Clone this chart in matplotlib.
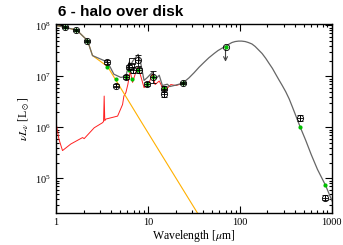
import numpy as np
import matplotlib
matplotlib.use("Agg")
import matplotlib.pyplot as plt

plt.rcParams['font.family'] = ['Liberation Serif', 'DejaVu Serif']
plt.rcParams['mathtext.fontset'] = 'stix'

# total model (grey)
tot_wave = [1.0, 1.25, 1.68, 2.21, 2.5, 3.65, 4.27, 5.09, 5.77, 6.27, 6.54, 6.87, 7.86, 8.4,
            9.1, 9.9, 11.2, 12.2, 13.3, 14.4, 16.3, 17.3, 19.3, 23.8, 28.0, 31.9, 36.0, 40.9,
            46.0, 52.6, 58.0, 64.9, 70.4, 76.0, 82.3, 89.0, 97.0, 105., 114.7, 124., 135.8,
            147., 160., 175., 191.7, 208., 226.6, 246., 267., 290., 316., 345., 374., 424.,
            460., 521., 600., 700., 860., 964., 1018.]
tot_lum = [1.0e8, 9.1e7, 8.1e7, 5.0e7, 2.55e7, 1.9e7, 1.1e7, 9.5e6, 1.0e7, 1.9e7, 1.7e7, 2.0e7, 2.7e7, 1.75e7,
           8.3e6, 9.5e6, 1.2e7, 8.9e6, 1.05e7, 6.6e6, 7.0e6, 6.3e6, 6.6e6, 7.3e6, 9.3e6, 1.18e7, 1.5e7, 1.88e7,
           2.3e7, 2.8e7, 3.2e7, 3.6e7, 3.9e7, 4.25e7, 4.6e7, 4.8e7, 4.9e7, 4.9e7, 4.8e7, 4.6e7, 4.3e7,
           3.85e7, 3.3e7, 2.8e7, 2.25e7, 1.8e7, 1.43e7, 1.1e7, 8.5e6, 6.6e6, 5.0e6, 3.6e6, 2.5e6, 1.4e6,
           9.6e5, 5.6e5, 2.9e5, 1.5e5, 7.2e4, 4.4e4, 3.5e4]

# stellar component (orange)
star_wave = [1.0, 1.25, 1.68, 2.21, 2.5, 3.65, 8.4, 34.6, 40.0]
star_lum = [1.0e8, 9.1e7, 8.1e7, 5.0e7, 2.55e7, 1.55e7, 1.32e6, 2.1e4, 1.4e4]

# disk / PAH component (red)
disk_wave = [1.02, 1.08, 1.18, 1.45, 1.95, 2.03, 2.61, 3.21, 3.30, 3.35, 3.40, 3.49, 4.69, 5.31,
             5.49, 5.77, 6.06, 6.42, 6.82, 7.28, 7.74, 8.18, 9.1, 10.25, 11.2, 12.0, 13.3, 15.1,
             17.8, 20.2, 23.8]
disk_lum = [1.05e6, 5.8e5, 3.5e5, 4.7e5, 6.3e5, 6.0e5, 9.8e5, 1.23e6, 1.3e6, 4.1e6, 1.35e6, 1.45e6, 1.66e6, 2.8e6,
            4.1e6, 4.8e6, 6.9e6, 1.26e7, 7.6e6, 1.1e7, 1.48e7, 1.17e7, 6.0e6, 7.2e6, 1.1e7, 6.9e6, 8.1e6, 5.1e6,
            6.9e6, 6.6e6, 7.2e6]

# observed photometry (open circles)
obs_wave = [1.25, 1.65, 2.2, 3.6, 4.5, 5.8, 6.2, 6.9, 7.8, 8.0, 9.7, 11.4, 15.0, 15.0, 24.0, 450., 850.]
obs_lum = [9.1e7, 8.1e7, 5.0e7, 1.9e7, 6.6e6, 9.6e6, 1.5e7, 1.35e7, 2.05e7, 1.3e7, 7.0e6, 9.6e6, 5.6e6, 4.6e6, 7.3e6, 1.5e6, 4.2e4]
obs_err = [0.05, 0.05, 0.05, 0.08, 0.08, 0.1, 0.1, 0.15, 0.3, 0.1, 0.1, 0.3, 0.15, 0.15, 0.05, 0.15, 0.1]

# ISO-like points (open squares)
sq_wave = [6.5, 6.7]
sq_lum = [1.6e7, 2.0e7]

# upper limit
lim_wave = [70.0]
lim_lum = [3.8e7]
lim_to = [1.7e7]

# model photometry (green)
mod_wave = [1.25, 1.65, 2.2, 3.6, 4.5, 5.8, 6.25, 6.8, 7.9, 9.7, 11.4, 15.0, 24.0, 70.0, 450., 850.]
mod_lum = [9.1e7, 8.1e7, 5.0e7, 1.55e7, 8.7e6, 9.6e6, 1.3e7, 8.9e6, 1.3e7, 7.0e6, 9.6e6, 6.0e6, 7.3e6, 3.8e7, 1.0e6, 7.4e4]

fig = plt.figure(figsize=(3.43, 2.45), dpi=100)
ax = fig.add_axes([0.163, 0.131, 0.804, 0.771])

ax.plot(disk_wave, disk_lum, color='#ff2020', lw=0.7)
ax.plot(star_wave, star_lum, color='#ffb000', lw=0.8)
ax.plot(tot_wave, tot_lum, color='#666666', lw=0.9)

ax.plot(mod_wave, mod_lum, 'o', color='#00c000', ms=3, mec='none', zorder=4)

lo = np.array(obs_lum) * (1 - 1 / (1 + np.array(obs_err)))
hi = np.array(obs_lum) * np.array(obs_err)
ax.errorbar(obs_wave, obs_lum, yerr=[lo, hi], fmt='o', mfc='none', mec='k', ms=4.5, mew=0.6,
            ecolor='k', elinewidth=0.6, capsize=2, capthick=0.6, zorder=5)
ax.plot(obs_wave, obs_lum, '+', color='k', ms=4, mew=0.6, zorder=5)
ax.plot(sq_wave, sq_lum, 's', mfc='none', mec='k', ms=4, mew=0.6, zorder=5)

for w, l, t in zip(lim_wave, lim_lum, lim_to):
    ax.plot([w], [l], 'o', mfc='none', mec='k', ms=4.5, mew=0.6, zorder=5)
    ax.annotate('', xy=(w, t), xytext=(w, l),
                arrowprops=dict(arrowstyle='->', color='#444444', lw=0.8, mutation_scale=7))

ax.set_xscale('log')
ax.set_yscale('log')
ax.set_xlim(1, 1000)
ax.set_ylim(2.1e4, 1.06e8)
ax.set_xticks([1, 10, 100, 1000])
ax.set_xticklabels(['1', '10', '100', '1000'])
ax.set_yticks([1e5, 1e6, 1e7, 1e8])
ax.tick_params(which='both', direction='in', top=True, right=True, labelsize=7.5, width=0.8)
ax.tick_params(which='major', length=5)
ax.tick_params(which='minor', length=2.5)
for s in ax.spines.values():
    s.set_linewidth(1.0)

ax.set_xlabel(r'Wavelength [$\mu$m]', fontsize=8.5, labelpad=1)
ax.set_ylabel(r'$\nu L_\nu$ [L$_\odot$]', fontsize=8.5, labelpad=2)

fig.text(0.168, 0.935, '6 - halo over disk', fontsize=11, fontweight='bold',
         family=['Liberation Sans', 'DejaVu Sans'], va='baseline')

fig.savefig('out.png', dpi=100)
